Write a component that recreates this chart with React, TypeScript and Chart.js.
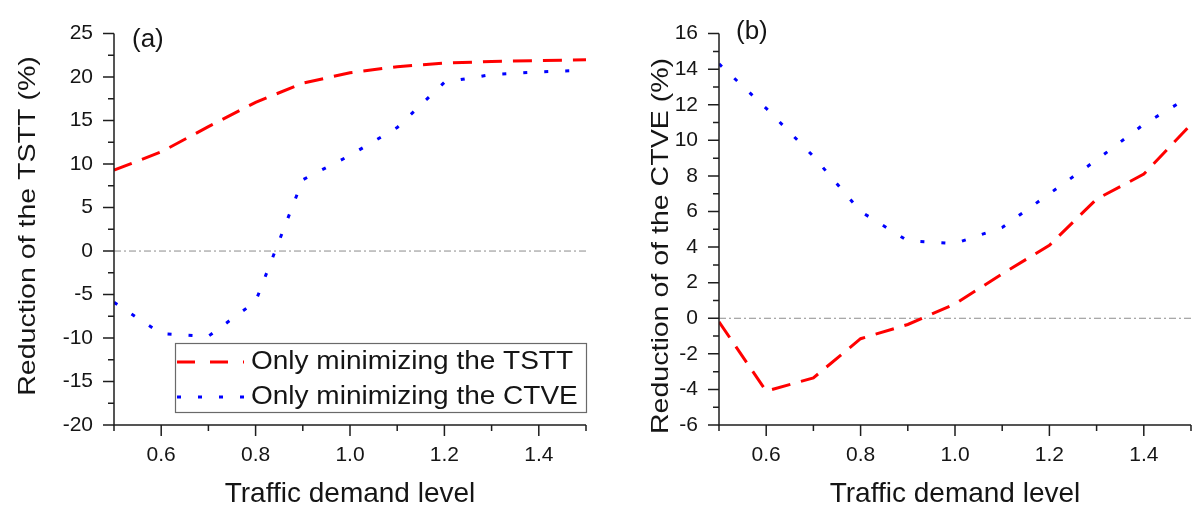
import React, { useEffect, useRef } from 'react';
import { Chart, registerables } from 'chart.js';

Chart.register(...registerables);

// ---------- data ----------
const demandLevels = [0.5, 0.6, 0.7, 0.8, 0.9, 1.0, 1.1, 1.2, 1.3, 1.4, 1.5];

// panel (a): reduction of the TSTT (%)
const tsttMinTSTT = [9.3, 11.4, 14.3, 17.1, 19.3, 20.5, 21.2, 21.6, 21.8, 21.9, 22.0];
const tsttMinCTVE = [-5.9, -9.5, -9.8, -5.8, 8.2, 11.0, 14.2, 19.4, 20.3, 20.6, 20.8];

// panel (b): reduction of the CTVE (%)
const ctveMinTSTT = [-0.2, -4.1, -3.35, -1.15, -0.35, 0.8, 2.5, 4.1, 6.7, 8.1, 10.9];
const ctveMinCTVE = [14.3, 11.8, 9.1, 6.0, 4.35, 4.2, 5.1, 7.0, 8.9, 10.9, 12.5];

const xMajorTicks = [0.6, 0.8, 1.0, 1.2, 1.4];
const xMinorTicks = [0.5, 0.7, 0.9, 1.1, 1.3, 1.5];
const tsttMajorTicks = [-20, -15, -10, -5, 0, 5, 10, 15, 20, 25];
const tsttMinorTicks = [-17.5, -12.5, -7.5, -2.5, 2.5, 7.5, 12.5, 17.5, 22.5];
const ctveMajorTicks = [-6, -4, -2, 0, 2, 4, 6, 8, 10, 12, 14, 16];
const ctveMinorTicks = [-5, -3, -1, 1, 3, 5, 7, 9, 11, 13, 15];

const legendLabels = ['Only minimizing the TSTT', 'Only minimizing the CTVE'];
const panelLabels = ['(a)', '(b)'];
const xTitle = 'Traffic demand level';
const yTitles = ['Reduction of the TSTT (%)', 'Reduction of of the CTVE (%)'];

// ---------- styles ----------
const FONT = "'Liberation Sans', Arial, Helvetica, sans-serif";
const TEXT = '#151515';
const AXIS = '#1e1e1e';
const RED = '#ff0000';
const BLUE = '#0000ff';
const RED_DASH = [19, 11];
const BLUE_DASH = [4, 17];

type PanelSpec = {
  yMin: number;
  yMax: number;
  red: number[];
  blue: number[];
  yMajor: number[];
  yMinor: number[];
  yTitle: string;
  label: string;
  left: number;
  right: number;
  yTitleX: number;
  yTitleY: number;
  labelX: number;
  labelY: number;
  showLegend: boolean;
};

const W = 598;
const H = 513;

function makeConfig(p: PanelSpec): any {
  const decor = {
    id: 'decor',
    afterDraw(chart: any) {
      const ctx = chart.ctx as CanvasRenderingContext2D;
      const area = chart.chartArea;
      const xs = chart.scales.x;
      const ys = chart.scales.y;
      ctx.save();
      // axes
      ctx.strokeStyle = AXIS;
      ctx.lineWidth = 1.5;
      ctx.setLineDash([]);
      ctx.beginPath();
      ctx.moveTo(area.left, area.top);
      ctx.lineTo(area.left, area.bottom);
      ctx.lineTo(area.right, area.bottom);
      ctx.stroke();
      // ticks
      ctx.beginPath();
      xMajorTicks.forEach((v) => {
        const px = xs.getPixelForValue(v);
        ctx.moveTo(px, area.bottom);
        ctx.lineTo(px, area.bottom + 11);
      });
      xMinorTicks.forEach((v) => {
        const px = xs.getPixelForValue(v);
        ctx.moveTo(px, area.bottom);
        ctx.lineTo(px, area.bottom + 6);
      });
      p.yMajor.forEach((v) => {
        const py = ys.getPixelForValue(v);
        ctx.moveTo(area.left, py);
        ctx.lineTo(area.left - 11, py);
      });
      p.yMinor.forEach((v) => {
        const py = ys.getPixelForValue(v);
        ctx.moveTo(area.left, py);
        ctx.lineTo(area.left - 6, py);
      });
      ctx.stroke();

      ctx.fillStyle = TEXT;
      // x title
      ctx.font = `28px ${FONT}`;
      ctx.textAlign = 'center';
      ctx.textBaseline = 'middle';
      ctx.fillText(xTitle, (area.left + area.right) / 2, 494);

      // y title (rotated)
      ctx.save();
      ctx.translate(p.yTitleX, p.yTitleY);
      ctx.rotate(-Math.PI / 2);
      ctx.scale(1.19, 1);
      ctx.font = `24px ${FONT}`;
      ctx.textAlign = 'center';
      ctx.textBaseline = 'alphabetic';
      ctx.fillText(p.yTitle, 0, 0);
      ctx.restore();

      // panel label
      ctx.font = `26px ${FONT}`;
      ctx.textAlign = 'left';
      ctx.textBaseline = 'middle';
      ctx.fillText(p.label, p.labelX, p.labelY);

      // legend
      if (p.showLegend) {
        const bx = 175;
        const by = 343;
        const bw = area.right - bx;
        const bh = 69;
        ctx.fillStyle = '#ffffff';
        ctx.fillRect(bx, by, bw, bh);
        ctx.strokeStyle = '#6a6a6a';
        ctx.lineWidth = 1.2;
        ctx.strokeRect(bx + 0.5, by + 0.5, bw, bh);
        const rows = [
          { y: 362, color: RED, dash: [18, 15], text: legendLabels[0] },
          { y: 397, color: BLUE, dash: BLUE_DASH, text: legendLabels[1] },
        ];
        rows.forEach((r) => {
          ctx.strokeStyle = r.color;
          ctx.lineWidth = 3;
          ctx.setLineDash(r.dash);
          ctx.beginPath();
          ctx.moveTo(177, r.y);
          ctx.lineTo(244, r.y);
          ctx.stroke();
          ctx.setLineDash([]);
          ctx.save();
          ctx.translate(251, r.y);
          ctx.scale(1.12, 1);
          ctx.fillStyle = TEXT;
          ctx.font = `25px ${FONT}`;
          ctx.textAlign = 'left';
          ctx.textBaseline = 'middle';
          ctx.fillText(r.text, 0, 0);
          ctx.restore();
        });
      }
      ctx.restore();
    },
  };

  return {
    type: 'line',
    data: {
      datasets: [
        {
          label: legendLabels[0],
          data: demandLevels.map((x, i) => ({ x, y: p.red[i] })),
          borderColor: RED,
          borderWidth: 3,
          borderDash: RED_DASH,
          pointRadius: 0,
          tension: 0,
          fill: false,
          order: 1,
        },
        {
          label: legendLabels[1],
          data: demandLevels.map((x, i) => ({ x, y: p.blue[i] })),
          borderColor: BLUE,
          borderWidth: 3,
          borderDash: BLUE_DASH,
          pointRadius: 0,
          tension: 0,
          fill: false,
          order: 2,
        },
        {
          label: 'zero',
          data: [
            { x: demandLevels[0], y: 0 },
            { x: demandLevels[demandLevels.length - 1], y: 0 },
          ],
          borderColor: '#8c8c8c',
          borderWidth: 1,
          borderDash: [7, 3, 2, 3],
          pointRadius: 0,
          tension: 0,
          fill: false,
          order: 10,
        },
      ],
    },
    options: {
      responsive: false,
      animation: false,
      devicePixelRatio: 1,
      events: [],
      layout: { padding: { top: 22, right: W - p.right, left: 0, bottom: 0 } },
      plugins: { legend: { display: false }, tooltip: { enabled: false } },
      scales: {
        x: {
          type: 'linear',
          min: 0.5,
          max: 1.5,
          grid: { display: false, drawTicks: false },
          border: { display: false },
          afterBuildTicks: (s: any) => {
            s.ticks = xMajorTicks.map((v) => ({ value: v }));
          },
          afterFit: (s: any) => {
            s.height = H - 425;
          },
          ticks: {
            padding: 18,
            autoSkip: false,
            maxRotation: 0,
            color: TEXT,
            font: { family: FONT, size: 21 },
            callback: (v: any) => Number(v).toFixed(1),
          },
        },
        y: {
          type: 'linear',
          min: p.yMin,
          max: p.yMax,
          grid: { display: false, drawTicks: false },
          border: { display: false },
          afterBuildTicks: (s: any) => {
            s.ticks = p.yMajor.map((v) => ({ value: v }));
          },
          afterFit: (s: any) => {
            s.width = p.left;
          },
          ticks: {
            padding: 21,
            autoSkip: false,
            color: TEXT,
            font: { family: FONT, size: 21 },
            callback: (v: any) => String(v),
          },
        },
      },
    },
    plugins: [decor],
  };
}

const panels: PanelSpec[] = [
  {
    yMin: -20,
    yMax: 25,
    red: tsttMinTSTT,
    blue: tsttMinCTVE,
    yMajor: tsttMajorTicks,
    yMinor: tsttMinorTicks,
    yTitle: yTitles[0],
    label: panelLabels[0],
    left: 114,
    right: 586,
    yTitleX: 35,
    yTitleY: 226,
    labelX: 132,
    labelY: 40,
    showLegend: true,
  },
  {
    yMin: -6,
    yMax: 16,
    red: ctveMinTSTT,
    blue: ctveMinCTVE,
    yMajor: ctveMajorTicks,
    yMinor: ctveMinorTicks,
    yTitle: yTitles[1],
    label: panelLabels[1],
    left: 121,
    right: 593,
    yTitleX: 70,
    yTitleY: 246,
    labelX: 138,
    labelY: 32,
    showLegend: false,
  },
];

function Panel({ spec }: { spec: PanelSpec }) {
  const ref = useRef<HTMLCanvasElement | null>(null);
  useEffect(() => {
    if (!ref.current) return;
    const chart = new Chart(ref.current, makeConfig(spec));
    return () => chart.destroy();
  }, [spec]);
  return (
    <canvas
      ref={ref}
      width={W}
      height={H}
      style={{ display: 'block', width: W, height: H }}
    />
  );
}

export default function App() {
  return (
    <div
      style={{
        position: 'absolute',
        left: 0,
        top: 0,
        width: 1196,
        height: 513,
        display: 'flex',
        background: '#ffffff',
      }}
    >
      {panels.map((p, i) => (
        <Panel key={i} spec={p} />
      ))}
    </div>
  );
}
